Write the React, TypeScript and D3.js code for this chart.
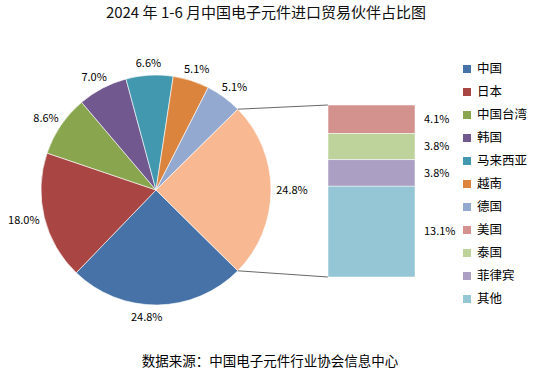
import * as d3 from "d3";

const pieNames = ["中国", "日本", "中国台湾", "韩国", "马来西亚", "越南", "德国", "其他"];
const pieValues = [24.8, 18.0, 8.6, 7.0, 6.6, 5.1, 5.1, 24.8];
const pieColors = ["#4672A8", "#A94643", "#89A54E", "#71588F", "#4198AF", "#DB843D", "#93A9CF", "#F8B992"];

const barNames = ["美国", "泰国", "菲律宾", "其他"];
const barValues = [4.1, 3.8, 3.8, 13.1];
const barColors = ["#D4928F", "#BED39B", "#AB9FC4", "#95C6D6"];

const legendNames = ["中国", "日本", "中国台湾", "韩国", "马来西亚", "越南", "德国", "美国", "泰国", "菲律宾", "其他"];

const title = "2024 年 1-6 月中国电子元件进口贸易伙伴占比图";
const source = "数据来源：中国电子元件行业协会信息中心";

const W = 533;
const H = 375;
const FONT = "'Noto Sans CJK SC', 'Noto Sans', sans-serif";

export default function App() {
  const cx = 156;
  const cy = 190;
  const R = 115;

  const total = d3.sum(pieValues);
  const otherSpan = (pieValues[pieValues.length - 1] / total) * Math.PI * 2;
  // the aggregated slice is centred on 3 o'clock
  const start = Math.PI / 2 + otherSpan / 2;

  const pie = d3
    .pie<number>()
    .sort(null)
    .startAngle(start)
    .endAngle(start + Math.PI * 2);
  const arcs = pie(pieValues);
  const arc = d3.arc<d3.PieArcDatum<number>>().innerRadius(0).outerRadius(R);

  const fmt = (v: number) => `${v.toFixed(1)}%`;

  // bar of pie
  const barX = 328;
  const barW = 87;
  const barTop = 105;
  const barSum = d3.sum(barValues);
  const yScale = d3.scaleLinear().domain([0, barSum]).range([barTop, barTop + 172]);
  const cum = d3.cumsum(barValues);

  const other = arcs[arcs.length - 1];
  const pt = (a: number, r: number) => [cx + r * Math.sin(a), cy - r * Math.cos(a)];
  const [tx, ty] = pt(other.startAngle, R);
  const [bx, by] = pt(other.endAngle, R);

  const legendY = d3.scalePoint<string>().domain(legendNames).range([69, 299]);
  const legendColor = (n: string, i: number) =>
    i < 7 ? pieColors[i] : barColors[i - 7];

  return (
    <svg
      width={W}
      height={H}
      style={{ position: "absolute", left: 0, top: 0, background: "#fff" }}
      fontFamily={FONT}
    >
      <text x={266} y={18} textAnchor="middle" fontSize={15} fill="#111">
        {title}
      </text>

      <g>
        {arcs.map((d, i) => (
          <path
            key={i}
            d={arc(d) || ""}
            transform={`translate(${cx},${cy})`}
            fill={pieColors[i]}
            stroke="#fff"
            strokeWidth={0.6}
          />
        ))}
        {arcs.map((d, i) => {
          const a = (d.startAngle + d.endAngle) / 2;
          const ux = Math.sin(a);
          const uy = -Math.cos(a);
          const w = fmt(d.data).length * 6;
          // the bottom label sits a bit left of centre in the original
          const shift = Math.abs(ux) < 0.05 ? -11 : 0;
          const x = cx + ux * (R + 6) + (w / 2) * ux + shift;
          const y = cy + uy * (R + 6) + 6 * uy;
          return (
            <text
              key={i}
              x={x}
              y={y}
              dy="0.35em"
              textAnchor="middle"
              fontSize={11}
              fill="#000"
            >
              {fmt(d.data)}
            </text>
          );
        })}
      </g>

      <line x1={tx} y1={ty} x2={barX} y2={yScale(0)} stroke="#404040" strokeWidth={0.8} />
      <line x1={bx} y1={by} x2={barX} y2={yScale(barSum)} stroke="#404040" strokeWidth={0.8} />

      <g>
        {barValues.map((v, i) => {
          const y0 = yScale(cum[i] - v);
          const y1 = yScale(cum[i]);
          return (
            <g key={i}>
              <rect x={barX} y={y0} width={barW} height={y1 - y0} fill={barColors[i]} stroke="#fff" strokeWidth={0.5} />
              <text x={424} y={(y0 + y1) / 2} dy="0.35em" fontSize={11} fill="#000">
                {fmt(v)}
              </text>
            </g>
          );
        })}
      </g>

      <g>
        {legendNames.map((n, i) => (
          <g key={n + i} transform={`translate(463,${legendY(n)})`}>
            <rect x={0} y={-4} width={8} height={8} fill={legendColor(n, i)} />
            <text x={14} y={0} dy="0.35em" fontSize={12.5} fill="#000">
              {n}
            </text>
          </g>
        ))}
      </g>

      <text x={270} y={366} textAnchor="middle" fontSize={13.5} fill="#000">
        {source}
      </text>
    </svg>
  );
}
